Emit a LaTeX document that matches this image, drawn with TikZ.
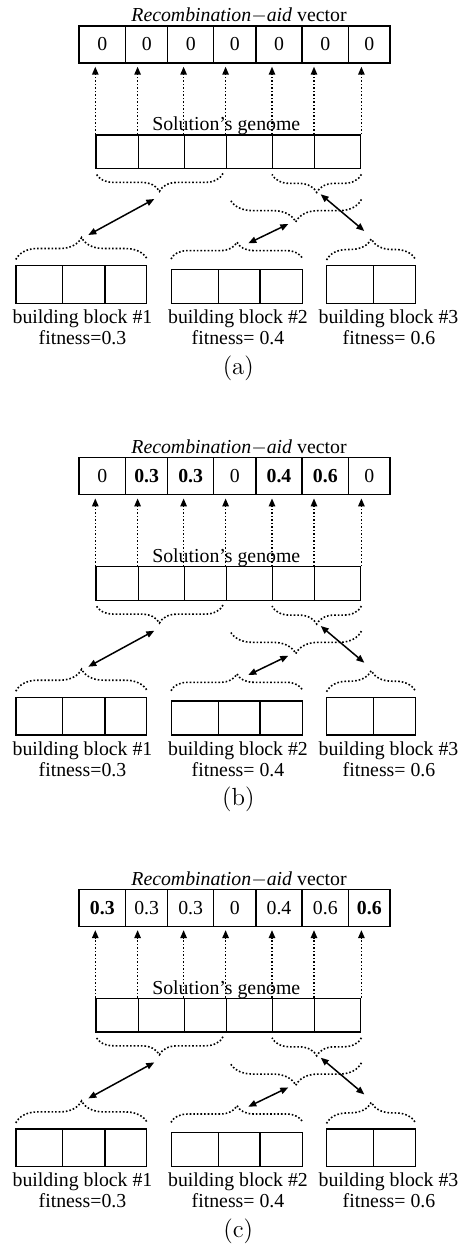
\documentclass[tikz,border=0pt]{standalone}
\usepackage{fontspec}
\setmainfont{Liberation Serif}
\usetikzlibrary{positioning, arrows.meta, decorations.pathreplacing}

% one panel: #1 vertical offset, #2 tag, #3..#9 entries of the vector
\newcommand{\recpanel}[9]{%
\begin{scope}[shift={(0,#1)}]
	% recombination-aid vector
	\foreach \l/\r/\v [count=\i] in {79/125.7/{#3}, 125.7/167.7/{#4}, 167.7/213.7/{#5},
		213.7/256/{#6}, 256/302/{#7}, 302/348.7/{#8}, 348.7/390/{#9}}
		\node[vcell, minimum width=(\r-\l)*0.5pt] (#2v\i) at ({(\l+\r)/2},44.5) {\v};
	\node[caption] (#2vt) at (239,22) {\textit{Recombination}$-$\textit{aid} vector};
	% solution's genome
	\foreach \l/\r [count=\i] in {96/138.3, 138.3/184.3, 184.3/226.3, 226.3/272.7,
		272.7/314.7, 314.7/360.7}
		\node[gcell, minimum width=(\r-\l)*0.5pt] (#2g\i) at ({(\l+\r)/2},151.85) {};
	\node[caption] (#2gt) at (226.3,130.7) {Solution's genome};
	\foreach \i in {1,...,6}
		\draw[link] (#2g\i.north west) -- (#2g\i.north west |- #2v1.south);
	\draw[link] (#2g6.north east) -- (#2g6.north east |- #2v1.south);
	% building blocks
	\foreach \l/\r [count=\i] in {16/62.7, 62.7/105, 105/146.7}
		\node[bcell, minimum width=(\r-\l)*0.5pt] (#2a\i) at ({(\l+\r)/2},284.5) {};
	\foreach \l/\r [count=\i] in {171.7/218.3, 218.3/260, 260/302.3}
		\node[bcell, minimum height=17pt, minimum width=(\r-\l)*0.5pt] (#2b\i) at ({(\l+\r)/2},286.3) {};
	\foreach \l/\r [count=\i] in {326.7/373.3, 373.3/415.3}
		\node[bcell, minimum width=(\r-\l)*0.5pt] (#2c\i) at ({(\l+\r)/2},284.5) {};
	\node[caption] (#2la) at (82.5,323.5) {building block \#1};
	\node[caption] (#2fa) at (82.5,344.5) {fitness=0.3};
	\node[caption] (#2lb) at (238,323.5) {building block \#2};
	\node[caption] (#2fb) at (238,344.5) {fitness= 0.4};
	\node[caption] (#2lc) at (388.5,323.5) {building block \#3};
	\node[caption] (#2fc) at (389,344.5) {fitness= 0.6};
	% braces
	\draw[group=9pt] ([shift={(-4,4)}]#2g3.south east) -- ([shift={(0.5,4)}]#2g1.south west);
	\draw[group=9pt] ([shift={(0,5)}]#2g6.south east) -- ([shift={(0,5)}]#2g5.south west);
	\draw[group=11.25pt] ([shift={(0,30)}]#2g6.south east) -- ([shift={(4.5,30)}]#2g4.south west);
	\draw[group=11pt] ([shift={(0.5,-5.5)}]#2a1.north west) -- ([shift={(0,-5.5)}]#2a3.north east);
	\draw[group=8.4pt] ([shift={(0,-9.6)}]#2b1.north west) -- ([shift={(0,-9.6)}]#2b3.north east);
	\draw[group=10.5pt] ([shift={(0.5,-5)}]#2c1.north west) -- ([shift={(0,-5)}]#2c2.north east);
	% matching
	\coordinate (#2tipa) at (88.3,235);
	\coordinate (#2tipl) at (154.3,199);
	\coordinate (#2tipb) at (248.3,243.3);
	\coordinate (#2tipm) at (288.3,224);
	\coordinate (#2tipr) at (320.7,194.3);
	\coordinate (#2tipc) at (364.3,231);
	\path[swap]
	(#2tipa) edge (#2tipl)
	(#2tipb) edge (#2tipm)
	(#2tipr) edge (#2tipc);
	\node[tag] (#2tag) at (238.3,374) {(#2)};
\end{scope}}

\begin{document}
\begin{tikzpicture}[x=0.5pt, y=-0.5pt, >={Triangle[length=4pt,width=3.2pt]},
	vcell/.style={draw, line width=0.7pt, inner sep=0pt, minimum height=18.5pt,
		font=\fontsize{9.9}{11}\selectfont},
	gcell/.style={draw, line width=0.7pt, inner sep=0pt, minimum height=16.85pt},
	bcell/.style={draw, line width=0.7pt, inner sep=0pt, minimum height=18.8pt},
	link/.style={->, densely dotted, line width=0.75pt, shorten >=1.5pt},
	group/.style={densely dotted, line width=0.8pt, decorate, decoration={brace, amplitude=#1}},
	group/.default=9pt,
	swap/.style={<->, line width=0.75pt},
	caption/.style={anchor=base, inner sep=0pt, font=\fontsize{9.9}{11}\selectfont},
	tag/.style={anchor=base, inner sep=0pt, font=\fontfamily{lmr}\fontsize{12.4}{14}\selectfont}]
	\useasboundingbox (0,0) rectangle (461,1247);
	\recpanel{0}{a}{0}{0}{0}{0}{0}{0}{0}
	\recpanel{431.7}{b}{0}{\textbf{0.3}}{\textbf{0.3}}{0}{\textbf{0.4}}{\textbf{0.6}}{0}
	\recpanel{863.4}{c}{\textbf{0.3}}{0.3}{0.3}{0}{0.4}{0.6}{\textbf{0.6}}
\end{tikzpicture}
\end{document}
